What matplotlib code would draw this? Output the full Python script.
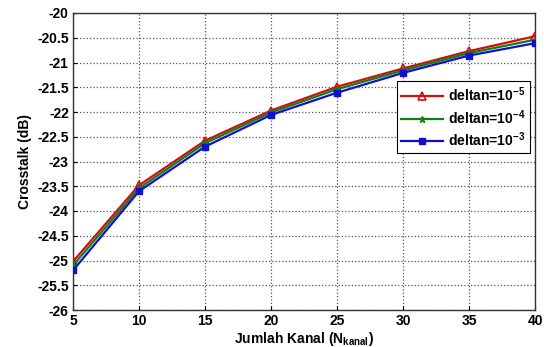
import matplotlib
matplotlib.use("Agg")
import matplotlib.pyplot as plt

plt.rcParams['font.family'] = ['Liberation Sans', 'DejaVu Sans']
plt.rcParams['mathtext.fontset'] = 'custom'
plt.rcParams['mathtext.rm'] = 'Liberation Sans:bold'
plt.rcParams['mathtext.bf'] = 'Liberation Sans:bold'
plt.rcParams['mathtext.default'] = 'bf'

kanal = [5, 10, 15, 20, 25, 30, 35, 40]
crosstalk_1e5 = [-25.02, -23.48, -22.58, -21.97, -21.49, -21.12, -20.77, -20.47]
crosstalk_1e4 = [-25.10, -23.54, -22.63, -22.01, -21.54, -21.16, -20.81, -20.54]
crosstalk_1e3 = [-25.20, -23.60, -22.70, -22.06, -21.61, -21.21, -20.86, -20.61]
labels = [r'deltan=10$^{-5}$', r'deltan=10$^{-4}$', r'deltan=10$^{-3}$']

fig = plt.figure(figsize=(5.44, 3.47), dpi=100)
ax = fig.add_axes([73 / 544, 1 - 310 / 347, (535 - 73) / 544, (310 - 13) / 347])

ax.plot(kanal, crosstalk_1e5, color='#d01010', lw=1.6, marker='^', ms=6,
        mfc='none', mew=1.2, label=labels[0], zorder=3)
ax.plot(kanal, crosstalk_1e4, color='#108010', lw=1.6, marker='*', ms=5,
        label=labels[1], zorder=3)
ax.plot(kanal, crosstalk_1e3, color='#1010d0', lw=1.6, marker='s', ms=4,
        label=labels[2], zorder=3)

ax.set_xlim(5, 40)
ax.set_ylim(-26, -20)
ax.set_xticks(kanal)
yt = [-26 + 0.5 * i for i in range(13)]
ax.set_yticks(yt)
ax.set_yticklabels(['%g' % v for v in yt])
ax.grid(True, color='#555555', linestyle=':', linewidth=0.9)
ax.tick_params(labelsize=10, direction='in', length=3, pad=3)
for lab in ax.get_xticklabels() + ax.get_yticklabels():
    lab.set_fontweight('bold')
for s in ax.spines.values():
    s.set_linewidth(1.0)
    s.set_color('#333333')

ax.set_xlabel(r'Jumlah Kanal (N$_{kanal}$)', fontsize=10, fontweight='bold', labelpad=1)
ax.set_ylabel('Crosstalk (dB)', fontsize=10, fontweight='bold', labelpad=4)

leg = ax.legend(loc='upper right', bbox_to_anchor=(0.989, 0.771),
                prop={'size': 10, 'weight': 'bold'},
                fancybox=False, framealpha=1, edgecolor='black',
                handlelength=3.0, borderpad=0.3, labelspacing=0.3,
                handletextpad=0.4, borderaxespad=0)
leg.get_frame().set_linewidth(0.8)

fig.savefig('out.png', dpi=100)
